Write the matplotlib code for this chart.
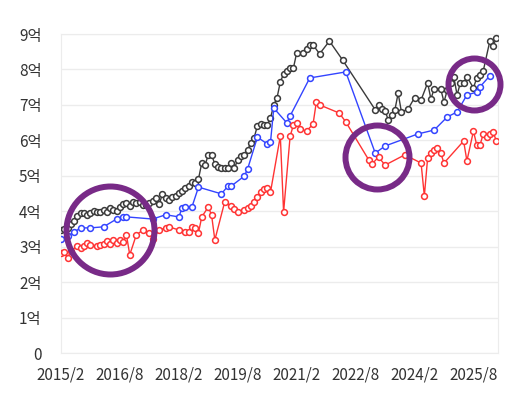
import numpy as np
import matplotlib.pyplot as plt

plt.rcParams['font.family'] = ['Noto Sans CJK KR', 'DejaVu Sans']

# 가로축: 2015/2 부터 몇 달째인지
black_m = [0, 1, 2, 3, 4, 5, 6, 7, 8, 9, 10, 11, 12, 13, 14, 15, 16, 17, 18, 19,
           20, 21, 22, 23, 24, 25, 26, 27, 28, 29, 30, 31, 32, 33, 34, 35, 36, 37, 38, 39,
           40, 41, 42, 43, 44, 45, 46, 47, 48, 49, 50, 51, 52, 53, 54, 55, 56, 57, 58, 59,
           60, 61, 62, 63, 64, 65, 66, 67, 68, 69, 70, 71, 72, 74, 75, 76, 77, 79, 82, 86,
           96, 97, 98, 99, 100, 101, 102, 103, 104, 106, 108, 110, 112, 113, 114, 116, 117, 118, 119, 120,
           121, 122, 123, 124, 126, 127, 128, 129, 131, 132, 133]
black_v = [3.47, 3.50, 3.53, 3.64, 3.72, 3.87, 3.95, 3.95, 3.89, 3.95, 4.01, 3.98, 3.98, 4.04, 3.98, 4.09, 4.04, 4.01, 4.12, 4.20,
           4.23, 4.15, 4.26, 4.23, 4.26, 4.18, 4.18, 4.23, 4.29, 4.37, 4.20, 4.49, 4.37, 4.32, 4.40, 4.43, 4.51, 4.57, 4.66, 4.71,
           4.83, 4.80, 4.91, 5.36, 5.30, 5.59, 5.59, 5.33, 5.25, 5.22, 5.22, 5.22, 5.36, 5.22, 5.45, 5.56, 5.59, 5.73, 5.93, 6.07,
           6.41, 6.46, 6.43, 6.43, 6.63, 7.00, 7.20, 7.65, 7.87, 7.96, 8.04, 8.04, 8.47, 8.47, 8.58, 8.69, 8.69, 8.44, 8.80, 8.27,
           6.86, 7.00, 6.88, 6.83, 6.57, 6.72, 6.86, 7.33, 6.80, 6.88, 7.20, 7.14, 7.62, 7.17, 7.45, 7.45, 7.08, 7.42, 7.62, 7.79,
           7.28, 7.62, 7.62, 7.79, 7.48, 7.76, 7.84, 7.96, 8.80, 8.66, 8.89]

blue_m = [0, 2, 4, 6, 9, 13, 17, 19, 20, 28, 32, 36, 37, 38, 40, 42, 49, 51, 52, 56,
          57, 60, 63, 64, 65, 69, 70, 76, 87, 96, 99, 109, 114, 118, 121, 124, 127, 128, 131]
blue_v = [3.22, 3.30, 3.41, 3.53, 3.53, 3.56, 3.78, 3.84, 3.84, 3.78, 3.90, 3.84, 4.09, 4.12, 4.12, 4.68, 4.49, 4.71, 4.71, 4.99,
          5.19, 6.09, 5.90, 5.95, 6.91, 6.49, 6.69, 7.76, 7.93, 5.64, 5.84, 6.18, 6.29, 6.66, 6.80, 7.28, 7.36, 7.51, 7.82]

red_m = [0, 1, 2, 3, 5, 6, 7, 8, 9, 11, 12, 13, 14, 15, 16, 17, 18, 19, 20, 21,
         23, 25, 27, 28, 30, 32, 33, 36, 38, 39, 40, 41, 42, 43, 45, 46, 47, 50, 52, 53,
         54, 56, 57, 58, 59, 60, 61, 62, 63, 64, 67, 68, 70, 71, 72, 73, 75, 77, 78, 79,
         85, 87, 94, 95, 97, 99, 105, 110, 111, 112, 113, 114, 115, 116, 117, 123, 124, 126, 127, 128,
         129, 130, 131, 132, 133]
red_v = [2.82, 2.85, 2.68, 2.88, 3.02, 2.96, 3.02, 3.10, 3.05, 3.02, 3.05, 3.08, 3.16, 3.08, 3.19, 3.10, 3.19, 3.13, 3.33, 2.77,
         3.33, 3.47, 3.39, 3.22, 3.47, 3.53, 3.56, 3.47, 3.41, 3.41, 3.56, 3.53, 3.39, 3.84, 4.12, 3.89, 3.19, 4.26, 4.15, 4.06,
         3.98, 4.04, 4.09, 4.15, 4.26, 4.40, 4.54, 4.63, 4.66, 4.54, 6.12, 3.98, 6.12, 6.43, 6.49, 6.32, 6.26, 6.46, 7.08, 7.00,
         6.77, 6.52, 5.45, 5.33, 5.53, 5.30, 5.59, 5.36, 4.43, 5.50, 5.64, 5.73, 5.78, 5.64, 5.36, 5.98, 5.42, 6.26, 5.87, 5.87,
         6.18, 6.09, 6.18, 6.24, 5.98]

# 강조 동그라미 (중심 달, 중심 값, 지름 px)
circle_m = [15, 96.6, 126.3]
circle_v = [3.46, 5.52, 7.59]
circle_d = [88, 64, 52]

tick_m = [0, 18, 36, 54, 72, 90, 108, 126]
tick_labels = ['2015/2', '2016/8', '2018/2', '2019/8', '2021/2', '2022/8', '2024/2', '2025/8']
y_ticks = [0, 1, 2, 3, 4, 5, 6, 7, 8, 9]
y_labels = ['0'] + [f'{i}억' for i in range(1, 10)]

fig = plt.figure(figsize=(5.07, 3.98), dpi=100)
ax = fig.add_axes([61 / 507, 1 - 353 / 398, 437 / 507, 319 / 398])

ax.plot(black_m, black_v, color='#3a3a3a', lw=1.0, marker='o', ms=4.2,
        mfc='white', mec='#3a3a3a', mew=1.1, zorder=3)
ax.plot(blue_m, blue_v, color='#3344ff', lw=1.0, marker='o', ms=4.2,
        mfc='white', mec='#3344ff', mew=1.1, zorder=4)
ax.plot(red_m, red_v, color='#ff3333', lw=1.0, marker='o', ms=4.2,
        mfc='white', mec='#ff3333', mew=1.1, zorder=4)

for cm, cv, cd in zip(circle_m, circle_v, circle_d):
    ax.plot([cm], [cv], marker='o', ms=cd * 0.72, mfc='none', mec='#782a87',
            mew=4.3, zorder=5, clip_on=False)

ax.set_xlim(0, 133.5)
ax.set_ylim(0, 9)
ax.set_xticks(tick_m)
ax.set_xticklabels(tick_labels)
ax.set_yticks(y_ticks)
ax.set_yticklabels(y_labels)
ax.tick_params(length=0, labelsize=11, colors='#333333')
ax.tick_params(axis='y', pad=14)
ax.tick_params(axis='x', pad=10)
ax.grid(axis='y', color='#ececec', lw=1)
for s in ax.spines.values():
    s.set_color('#ececec')

fig.savefig('out.png', dpi=100)
